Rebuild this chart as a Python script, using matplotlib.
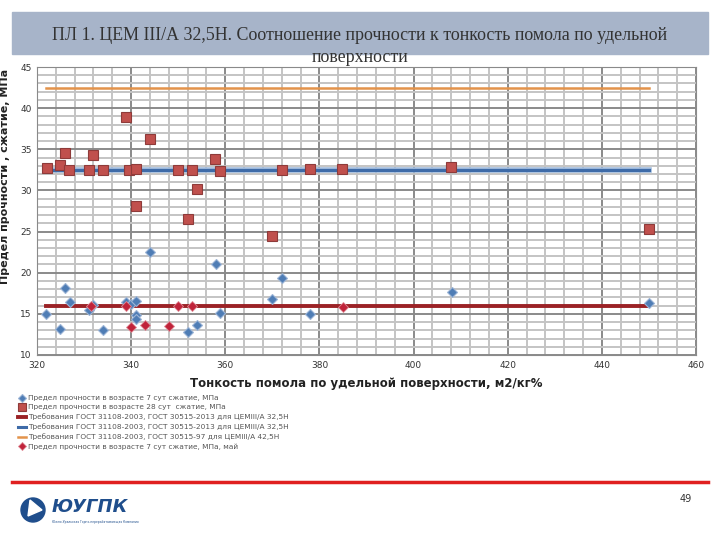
import matplotlib
matplotlib.use("Agg")
import matplotlib.pyplot as plt
from matplotlib.ticker import MultipleLocator
from matplotlib.patches import Rectangle, Circle, Polygon
from matplotlib.lines import Line2D

# --- данные ---
x_28 = [322.1, 324.9, 326.0, 326.9, 331.0, 332.0, 334.0, 339.0, 339.5, 341.0,
        341.0, 344.0, 350.0, 352.1, 353.0, 354.0, 357.9, 358.9, 370.0, 372.0,
        378.0, 384.9, 408.0, 450.0]
y_28 = [32.7, 33.1, 34.5, 32.5, 32.5, 34.3, 32.5, 38.9, 32.5, 32.6,
        28.1, 36.3, 32.5, 26.5, 32.5, 30.2, 33.8, 32.4, 24.5, 32.5,
        32.6, 32.6, 32.8, 25.3]

x_7 = [322.0, 324.9, 326.0, 327.0, 331.0, 332.0, 334.0, 338.9, 340.0, 341.0,
       341.0, 341.0, 344.0, 352.0, 354.0, 358.0, 358.9, 370.0, 372.0, 378.0,
       408.1, 450.0]
y_7 = [15.0, 13.2, 18.1, 16.4, 15.5, 16.1, 13.0, 16.5, 16.2, 16.6,
       14.9, 14.4, 22.5, 12.8, 13.7, 21.0, 15.1, 16.8, 19.3, 15.0,
       17.6, 16.3]

x_7may = [331.5, 338.9, 340.0, 343.0, 348.0, 350.0, 353.0, 385.0]
y_7may = [15.9, 16.0, 13.4, 13.6, 13.5, 16.0, 16.0, 15.8]

req_x = [322, 450]
req_325_7 = 16
req_325_28 = 32.5
req_425_28 = 42.5

labels = [
    "Предел прочности в возрасте 7 сут сжатие, МПа",
    "Предел прочности в возрасте 28 сут  сжатие, МПа",
    "Требования ГОСТ 31108-2003, ГОСТ 30515-2013 для ЦЕМIII/А 32,5Н",
    "Требования ГОСТ 31108-2003, ГОСТ 30515-2013 для ЦЕМIII/А 32,5Н",
    "Требования ГОСТ 31108-2003, ГОСТ 30515-97 для ЦЕМIII/А 42,5Н",
    "Предел прочности в возрасте 7 сут сжатие, МПа, май",
]

fig = plt.figure(figsize=(7.2, 5.4), dpi=100)

# заголовок
fig.patches.append(Rectangle((12 / 720, 1 - 54 / 540), 696 / 720, 42 / 540,
                             transform=fig.transFigure, color="#A7B4C9", zorder=0))
fig.text(0.5, 1 - 35 / 540,
         "ПЛ 1. ЦЕМ III/А 32,5Н. Соотношение прочности к тонкость помола по удельной",
         ha="center", va="center", family="Liberation Serif", fontsize=12.9, color="#333333")
fig.text(0.5, 1 - 57 / 540, "поверхности", ha="center", va="center",
         family="Liberation Serif", fontsize=12.9, color="#333333")

ax = fig.add_axes([37 / 720, 1 - 355 / 540, 659 / 720, 288 / 540])
ax.set_xlim(320, 460)
ax.set_ylim(10, 45)
ax.xaxis.set_major_locator(MultipleLocator(20))
ax.xaxis.set_minor_locator(MultipleLocator(4))
ax.yaxis.set_major_locator(MultipleLocator(5))
ax.yaxis.set_minor_locator(MultipleLocator(1))
ax.grid(which="minor", color="#C4C4C4", lw=1.4, zorder=0)
ax.grid(which="major", color="#8A8A8A", lw=1.4, zorder=0)
ax.set_axisbelow(True)
for s in ax.spines.values():
    s.set_color("#8A8A8A")
ax.tick_params(which="both", length=0, labelsize=6.5, labelcolor="#333333", pad=4)

h1, = ax.plot(x_7, y_7, ls="none", marker="D", ms=5.2, color="#4F7DB5",
              mec="#9DB5D6", mew=0.8, zorder=4)
h2, = ax.plot(x_28, y_28, ls="none", marker="s", ms=7, color="#C0504D",
              mec="#8E3B3A", mew=0.8, zorder=3)
h3, = ax.plot(req_x, [req_325_7] * 2, color="#9B2226", lw=2.8, zorder=2)
h4, = ax.plot(req_x, [req_325_28] * 2, color="#3E6BA8", lw=2.2, zorder=2)
ax.plot(req_x, [req_325_28] * 2, color="#9DB9DC", lw=4, zorder=1.9)
h5, = ax.plot(req_x, [req_425_28] * 2, color="#E3934B", lw=1.8, zorder=2)
h6, = ax.plot(x_7may, y_7may, ls="none", marker="D", ms=4.8, color="#C0233A",
              mec="#E08A95", mew=0.6, zorder=5)

ax.set_ylabel("Предел прочности , сжатие, МПа", fontsize=8, fontweight="bold",
              color="#222222")
ax.yaxis.set_label_coords(-0.041, 0.62)
ax.set_xlabel("Тонкость помола по удельной поверхности, м2/кг%", fontsize=8.5,
              fontweight="bold", color="#222222")
ax.xaxis.set_label_coords(0.5, -0.075)

fig.legend([h1, h2, h3, h4, h5, h6], labels, loc="upper left",
           bbox_to_anchor=(15 / 720, 1 - 392 / 540), frameon=False,
           fontsize=5.3, labelcolor="#555555", handlelength=1.1, markerscale=0.8,
           handletextpad=0.3, labelspacing=0.42, borderaxespad=0)

# низ слайда
fig.add_artist(Line2D([12 / 720, 708 / 720], [1 - 482 / 540] * 2,
                      color="#E02020", lw=2.5, transform=fig.transFigure))
fig.text(686 / 720, 1 - 499 / 540, "49", ha="center", va="center",
         fontsize=7, color="#333333")

# логотип
fig.patches.append(Circle((33, 540 - 510), 12, transform=None,
                          color="#1F4E8C", zorder=3))
fig.patches.append(Polygon([(28, 540 - 516), (42, 540 - 510), (30, 540 - 500)],
                           closed=True, transform=None, color="white", zorder=4))
fig.text(52 / 720, 1 - 507 / 540, "ЮУГПК", fontsize=13, fontweight="bold",
         color="#1F4E8C", ha="left", va="center", style="italic")
fig.text(52 / 720, 1 - 522 / 540, "Южно-Уральская Горно-перерабатывающая Компания",
         fontsize=2.2, color="#1F4E8C", ha="left", va="center")

fig.savefig("out.png", dpi=100)
